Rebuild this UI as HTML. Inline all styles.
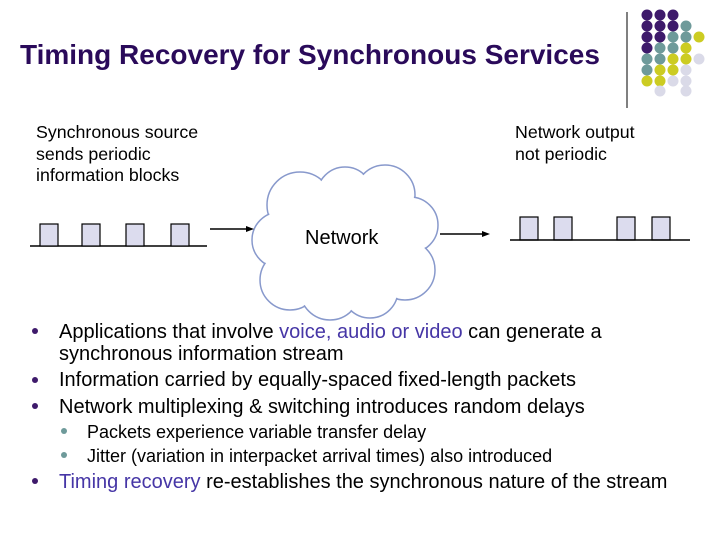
<!DOCTYPE html>
<html><head><meta charset="utf-8"><style>
body{margin:0;width:720px;height:540px;background:#fff;position:relative;overflow:hidden;font-family:"Liberation Sans",sans-serif;}
.t{position:absolute;white-space:nowrap;color:#000;}
.p{color:#4636a6;}
</style></head><body>
<svg width="720" height="540" style="position:absolute;left:0;top:0">
<line x1="627" y1="12" x2="627" y2="108" stroke="#000" stroke-width="1"/>
<g>
<circle cx="647" cy="15" r="5.5" fill="#3e1a6b"/><circle cx="660" cy="15" r="5.5" fill="#3e1a6b"/><circle cx="673" cy="15" r="5.5" fill="#3e1a6b"/>
<circle cx="647" cy="26" r="5.5" fill="#3e1a6b"/><circle cx="660" cy="26" r="5.5" fill="#3e1a6b"/><circle cx="673" cy="26" r="5.5" fill="#3e1a6b"/><circle cx="686" cy="26" r="5.5" fill="#6e9a9a"/>
<circle cx="647" cy="37" r="5.5" fill="#3e1a6b"/><circle cx="660" cy="37" r="5.5" fill="#3e1a6b"/><circle cx="673" cy="37" r="5.5" fill="#6e9a9a"/><circle cx="686" cy="37" r="5.5" fill="#6e9a9a"/><circle cx="699" cy="37" r="5.5" fill="#cccc22"/>
<circle cx="647" cy="48" r="5.5" fill="#3e1a6b"/><circle cx="660" cy="48" r="5.5" fill="#6e9a9a"/><circle cx="673" cy="48" r="5.5" fill="#6e9a9a"/><circle cx="686" cy="48" r="5.5" fill="#cccc22"/>
<circle cx="647" cy="59" r="5.5" fill="#6e9a9a"/><circle cx="660" cy="59" r="5.5" fill="#6e9a9a"/><circle cx="673" cy="59" r="5.5" fill="#cccc22"/><circle cx="686" cy="59" r="5.5" fill="#cccc22"/><circle cx="699" cy="59" r="5.5" fill="#dadae8"/>
<circle cx="647" cy="70" r="5.5" fill="#6e9a9a"/><circle cx="660" cy="70" r="5.5" fill="#cccc22"/><circle cx="673" cy="70" r="5.5" fill="#cccc22"/><circle cx="686" cy="70" r="5.5" fill="#dadae8"/>
<circle cx="647" cy="81" r="5.5" fill="#cccc22"/><circle cx="660" cy="81" r="5.5" fill="#cccc22"/><circle cx="673" cy="81" r="5.5" fill="#dadae8"/><circle cx="686" cy="81" r="5.5" fill="#dadae8"/>
<circle cx="660" cy="91" r="5.5" fill="#dadae8"/><circle cx="686" cy="91" r="5.5" fill="#dadae8"/>
</g>
<g stroke="#8899cc" stroke-width="1.5" fill="#fff">
<circle cx="300" cy="205" r="33"/><circle cx="345" cy="195" r="28"/><circle cx="385" cy="195" r="30"/><circle cx="410" cy="225" r="28"/>
<circle cx="280" cy="240" r="28"/><circle cx="405" cy="270" r="30"/><circle cx="290" cy="280" r="30"/><circle cx="330" cy="290" r="30"/><circle cx="370" cy="290" r="28"/>
</g>
<g fill="#fff">
<circle cx="300" cy="205" r="32"/><circle cx="345" cy="195" r="27"/><circle cx="385" cy="195" r="29"/><circle cx="410" cy="225" r="27"/>
<circle cx="280" cy="240" r="27"/><circle cx="405" cy="270" r="29"/><circle cx="290" cy="280" r="29"/><circle cx="330" cy="290" r="29"/><circle cx="370" cy="290" r="27"/>
<ellipse cx="345" cy="245" rx="70" ry="50"/>
</g>
<line x1="30" y1="246" x2="207" y2="246" stroke="#000" stroke-width="1.5"/>
<g fill="#dcdcee" stroke="#000" stroke-width="1.2">
<rect x="40" y="224" width="18" height="22"/><rect x="82" y="224" width="18" height="22"/><rect x="126" y="224" width="18" height="22"/><rect x="171" y="224" width="18" height="22"/>
<rect x="520" y="217" width="18" height="23"/><rect x="554" y="217" width="18" height="23"/><rect x="617" y="217" width="18" height="23"/><rect x="652" y="217" width="18" height="23"/>
</g>
<line x1="510" y1="240" x2="690" y2="240" stroke="#000" stroke-width="1.5"/>
<line x1="210" y1="229" x2="248" y2="229" stroke="#000" stroke-width="1.5"/><polygon points="254,229 246,226 246,232" fill="#000"/>
<line x1="440" y1="234" x2="484" y2="234" stroke="#000" stroke-width="1.5"/><polygon points="490,234 482,231 482,237" fill="#000"/>
<g fill="#3e1a6b"><circle cx="35" cy="331" r="3"/><circle cx="35" cy="380" r="3"/><circle cx="35" cy="406" r="3"/><circle cx="35" cy="481" r="3"/></g>
<g fill="#6e9a9a"><circle cx="64" cy="431" r="3"/><circle cx="64" cy="455" r="3"/></g>
</svg>
<div class="t" style="left:20px;top:39px;font-size:28px;font-weight:bold;color:#2a0a5a">Timing Recovery for Synchronous Services</div>
<div class="t" style="left:36px;top:122px;font-size:17.8px;line-height:21.5px">Synchronous source<br>sends periodic<br>information blocks</div>
<div class="t" style="left:515px;top:122px;font-size:17.8px;line-height:21.5px">Network output<br>not periodic</div>
<div class="t" style="left:305px;top:227px;font-size:20px">Network</div>
<div class="t" style="left:59px;top:321px;font-size:20px;line-height:22px">Applications that involve <span class="p">voice, audio or video</span> can generate a<br>synchronous information stream</div>
<div class="t" style="left:59px;top:369px;font-size:20px">Information carried by equally-spaced fixed-length packets</div>
<div class="t" style="left:59px;top:396px;font-size:20px">Network multiplexing &amp; switching introduces random delays</div>
<div class="t" style="left:87px;top:422px;font-size:18px">Packets experience variable transfer delay</div>
<div class="t" style="left:87px;top:446px;font-size:18px">Jitter (variation in interpacket arrival times) also introduced</div>
<div class="t" style="left:59px;top:471px;font-size:20px"><span class="p">Timing recovery</span> re-establishes the synchronous nature of the stream</div>
</body></html>
